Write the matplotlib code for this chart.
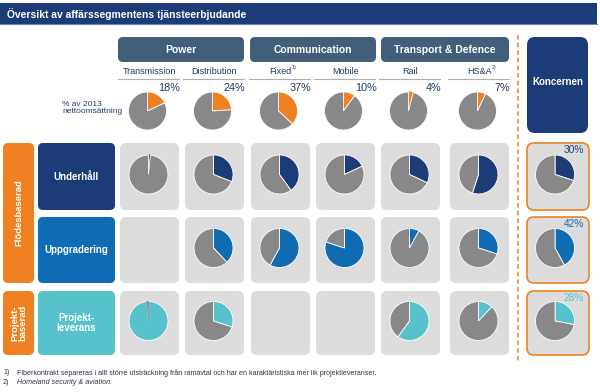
import matplotlib
matplotlib.use('Agg')
import matplotlib.pyplot as plt
from matplotlib.patches import FancyBboxPatch, Rectangle

plt.rcParams['font.family'] = ['Liberation Sans', 'DejaVu Sans']

# data
groups = ['Power', 'Communication', 'Transport & Defence']
segments = ['Transmission', 'Distribution', 'Fixed', 'Mobile', 'Rail', 'HS&A']
seg_notes = ['', '', '1)', '', '', '2)']
share_2013 = [18, 24, 37, 10, 4, 7]
row_labels = ['Underhåll', 'Uppgradering', 'Projekt-\nleverans']
underhall = [1.5, 31, 40, 18, 32, 55]
uppgradering = [None, 38, 58, 80, 8, 30]
projekt = [98.5, 30, None, None, 60, 12]
koncern = [30, 42, 28]

NAVY = '#1c3c78'
BLUE = '#0f6cb3'
CYAN = '#57c1cc'
ORANGE = '#f08122'
GRAY = '#888888'
CELL = '#dcdcdc'
SLATE = '#415f7a'
row_colors = [NAVY, BLUE, CYAN]

fig = plt.figure(figsize=(6, 3.92), dpi=100)
ax = fig.add_axes([0, 0, 1, 1])


def rbox(x0, y0, x1, y1, color, r=5, ec='none', lw=0):
    ax.add_patch(FancyBboxPatch((x0, y0), x1 - x0, y1 - y0,
                                boxstyle=f"round,pad=0,rounding_size={r}",
                                fc=color, ec=ec, lw=lw))


def pie(cx, cy, share, color, r=19.5):
    # y axis is inverted: startangle=-90 is 12 o'clock, counterclock=True runs clockwise on screen
    tiny = min(share, 100 - share) < 5
    off = 0.13 if tiny else 0.07
    small = 0 if share <= 50 else 1
    explode = [0, 0]
    explode[small] = off
    wedges, _ = ax.pie([share, 100 - share], colors=[color, GRAY], startangle=-90,
                       counterclock=True, center=(cx, cy), radius=r, explode=explode,
                       frame=True, wedgeprops=dict(edgecolor='white', linewidth=0.6))
    if tiny:
        # keep thin slivers visible
        wedges[small].set_edgecolor(wedges[small].get_facecolor())
        wedges[small].set_linewidth(0.4)


# title bar
ax.add_patch(Rectangle((0, 3), 597, 21, fc=NAVY, ec='none'))
ax.plot([0, 597], [24, 24], color='#6f86b0', lw=0.8)
ax.text(7, 14, 'Översikt av affärssegmentens tjänsteerbjudande', color='white',
        fontsize=7.4, fontweight='bold', va='center', ha='left')

col_x0 = [120, 185, 251, 316, 381, 450]
col_w = 59
col_cx = [x + col_w / 2 for x in col_x0]
row_y = [(143, 210), (217, 283), (291, 355)]

# group headers
group_span = [(118, 244), (250, 376), (381, 509)]
for g, (x0, x1) in zip(groups, group_span):
    rbox(x0, 37, x1, 62, SLATE, r=5)
    ax.text((x0 + x1) / 2, 49.5, g, color='white', fontsize=7.5, fontweight='bold',
            ha='center', va='center')

# segment labels + 2013 pies
for i, seg in enumerate(segments):
    cx = col_cx[i]
    t = ax.text(cx, 71, seg, color='#1f3a64', fontsize=6.5, ha='center', va='center')
    if seg_notes[i]:
        ax.annotate(seg_notes[i], xy=(1.0, 0.85), xycoords=t, color='#1f3a64',
                    fontsize=3.8, ha='left', va='center')
    ax.plot([col_x0[i] - 2, col_x0[i] + col_w], [78.5, 78.5], color='#b0b0b0', lw=0.8)
    pie(cx - 2, 111, share_2013[i], ORANGE, r=19)
    ax.text(cx + 31, 88, f'{share_2013[i]}%', color='#1f3a64', fontsize=7.8,
            ha='right', va='center')

ax.text(62, 108, '% av 2013\nnettoomsättning', color='#1f3a78', fontsize=6,
        ha='left', va='center', linespacing=1.1)

# left category boxes
rbox(3, 143, 34, 283, ORANGE, r=5)
ax.text(18.5, 213, 'Flödesbaserad', color='white', fontsize=6.8, fontweight='bold',
        rotation=90, ha='center', va='center')
rbox(3, 291, 34, 355, ORANGE, r=5)
ax.text(18.5, 323, 'Projekt-\nbaserad', color='white', fontsize=6.8, fontweight='bold',
        rotation=90, ha='center', va='center', linespacing=0.85)

# rows
grid = [underhall, uppgradering, projekt]
for r, (label, vals) in enumerate(zip(row_labels, grid)):
    y0, y1 = row_y[r]
    cy = (y0 + y1) / 2 - 2
    rbox(38, y0, 115, y1, row_colors[r], r=5)
    ax.text(76.5, (y0 + y1) / 2, label, color='white', fontsize=7, fontweight='bold',
            ha='center', va='center', linespacing=1.1)
    for i, v in enumerate(vals):
        rbox(col_x0[i], y0, col_x0[i] + col_w, y1, CELL, r=6)
        if v is not None:
            pie(col_cx[i] - 1, cy, v, row_colors[r])
    # koncernen
    rbox(527, y0, 589, y1, CELL, r=7, ec=ORANGE, lw=1.2)
    pie(555, cy, koncern[r], row_colors[r])
    ax.text(584, y0 + 7, f'{koncern[r]}%', color=row_colors[r], fontsize=7.3,
            ha='right', va='center')

# koncernen header
rbox(527, 37, 588, 133, NAVY, r=8)
ax.text(557.5, 82, 'Koncernen', color='white', fontsize=7, fontweight='bold',
        ha='center', va='center')

# dashed divider
ax.plot([518, 518], [35, 362], color=ORANGE, lw=1.1, linestyle=(0, (3, 2)))

# footnotes
ax.text(3, 373, '1)', color='#333344', fontsize=5.1, va='center')
ax.text(17, 373, 'Fiberkontrakt separeras i allt större utsträckning från ramavtal och har en '
        'karaktäristiska mer lik projektleveranser.', color='#333344', fontsize=5.1, va='center')
ax.text(3, 383, '2)', color='#333344', fontsize=5.1, va='center')
ax.text(17, 383, 'Homeland security & aviation.', color='#333344', fontsize=5.1,
        style='italic', va='center')

ax.set_xlim(0, 600)
ax.set_ylim(392, 0)
ax.set_aspect('equal')
ax.axis('off')
fig.savefig('out.png', dpi=100)
